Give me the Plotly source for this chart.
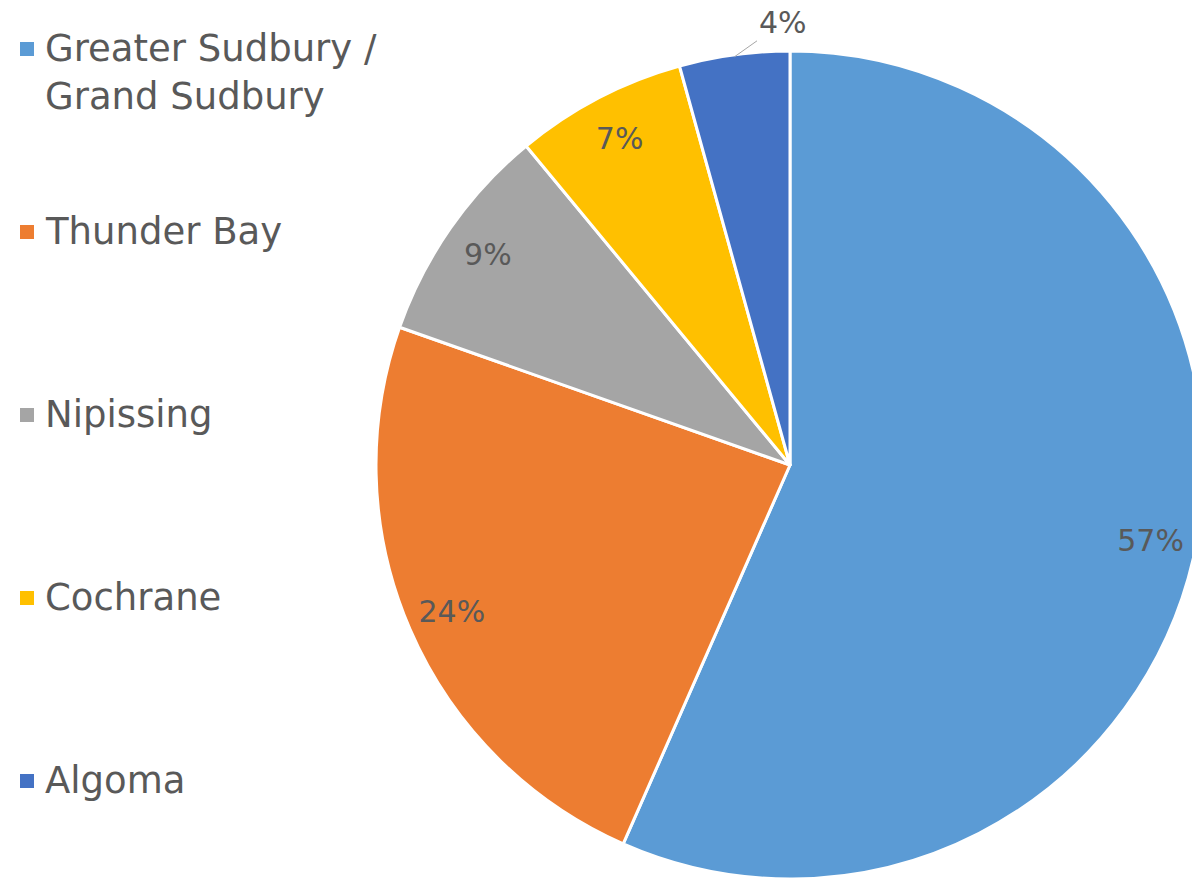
import math
import plotly.graph_objects as go

categories = ["Greater Sudbury / Grand Sudbury", "Thunder Bay", "Nipissing", "Cochrane", "Algoma"]
legend_labels = ["Greater Sudbury /<br>Grand Sudbury", "Thunder Bay", "Nipissing", "Cochrane", "Algoma"]
values = [56.6, 23.8, 8.6, 6.7, 4.3]
colors = ["#5B9BD5", "#ED7D31", "#A5A5A5", "#FFC000", "#4472C4"]
outside_slice = ["Algoma"]

W, H = 1208, 879
TEXT = "#595959"
FONT = "DejaVu Sans"

# pie domain in pixels (left, right, top, bottom)
PX0, PX1, PY0, PY1 = 374, 1206, 51, 879
domain = dict(x=[PX0 / W, PX1 / W], y=[1 - PY1 / H, 1 - PY0 / H])

fig = go.Figure()
# the pie itself
fig.add_trace(go.Pie(
    labels=categories, values=values, sort=False, direction="clockwise", rotation=0,
    marker=dict(colors=colors, line=dict(color="white", width=3)),
    textinfo="none", domain=domain, showlegend=False, hoverinfo="label+percent",
))
# transparent ring on top, used only to place the data labels near the rim
fig.add_trace(go.Pie(
    labels=categories, values=values, sort=False, direction="clockwise", rotation=0,
    hole=0.78,
    marker=dict(colors=["rgba(0,0,0,0)"] * len(values), line=dict(width=0)),
    texttemplate="%{percent:.0%}",
    textposition=["none" if c in outside_slice else "inside" for c in categories],
    insidetextorientation="horizontal",
    textfont=dict(family=FONT, size=30, color=TEXT),
    domain=domain, showlegend=False, hoverinfo="skip",
))

# outside label with leader line for the small slice(s)
total = sum(values)
cx = (PX0 + PX1) / 2
cy = (PY0 + PY1) / 2
r = min(PX1 - PX0, PY1 - PY0) / 2 - 2
cum = 0
for c, v in zip(categories, values):
    if c in outside_slice:
        mid = (cum + v / 2) / total * 2 * math.pi
        ex = cx + r * math.sin(mid)
        ey = cy - r * math.cos(mid)
        fig.add_annotation(xref="paper", yref="paper", x=ex / W, y=1 - ey / H,
                           ax=48, ay=-34, showarrow=True, arrowhead=0, arrowwidth=1,
                           arrowcolor="#A6A6A6", standoff=0,
                           text=f"{round(v / total * 100)}%",
                           font=dict(family=FONT, size=30, color=TEXT))
    cum += v

# manual legend (large vertical spacing as in the reference)
legend_top = 49
legend_step = 183
for i, (lab, col) in enumerate(zip(legend_labels, colors)):
    ly = legend_top + i * legend_step
    fig.add_shape(type="rect", xref="paper", yref="paper",
                  x0=20 / W, x1=34 / W, y0=1 - (ly + 7) / H, y1=1 - (ly - 7) / H,
                  fillcolor=col, line=dict(width=0))
    fig.add_annotation(xref="paper", yref="paper", x=43 / W, y=1 - (ly - 24) / H,
                       xanchor="left", yanchor="top", align="left", showarrow=False,
                       text=lab, font=dict(family=FONT, size=37, color=TEXT))

fig.update_layout(
    width=W, height=H,
    margin=dict(l=0, r=0, t=0, b=0),
    paper_bgcolor="white", plot_bgcolor="white",
)

fig.write_html("out.html", config={"displayModeBar": False},
               post_script="document.body.style.margin='0';document.body.style.overflow='hidden';document.documentElement.style.overflow='hidden';")
